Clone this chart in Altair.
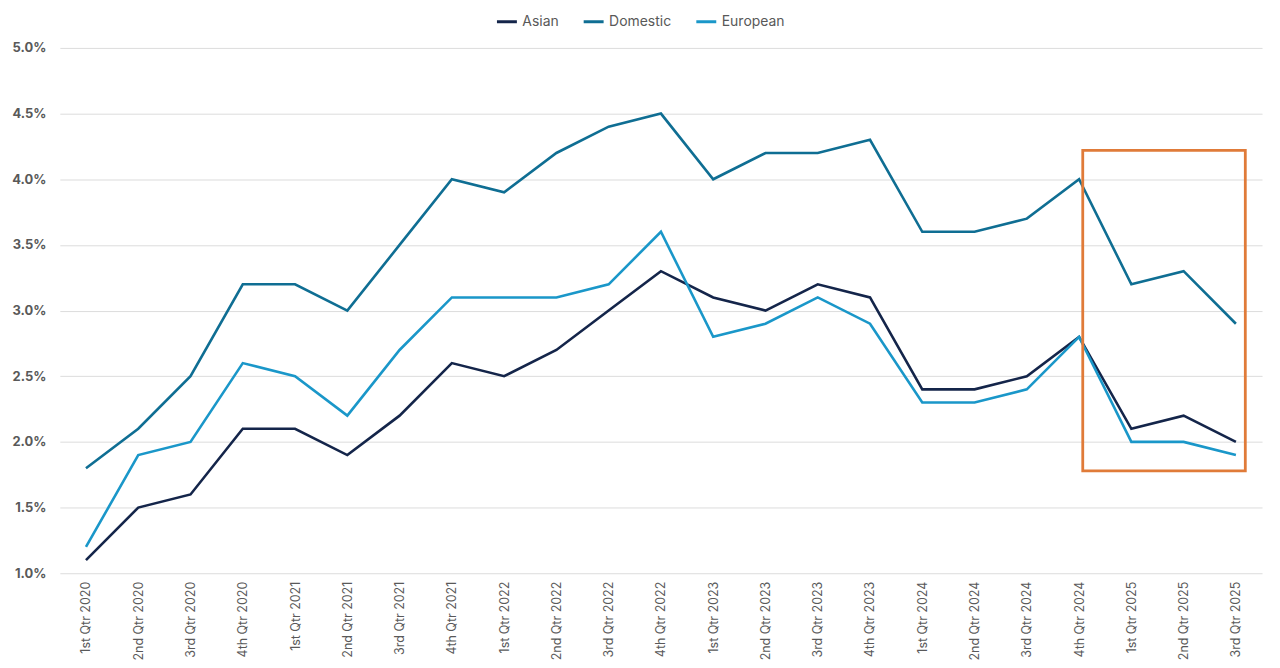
import altair as alt
import pandas as pd

quarters = ["1st Qtr 2020", "2nd Qtr 2020", "3rd Qtr 2020", "4th Qtr 2020",
            "1st Qtr 2021", "2nd Qtr 2021", "3rd Qtr 2021", "4th Qtr 2021",
            "1st Qtr 2022", "2nd Qtr 2022", "3rd Qtr 2022", "4th Qtr 2022",
            "1st Qtr 2023", "2nd Qtr 2023", "3rd Qtr 2023", "4th Qtr 2023",
            "1st Qtr 2024", "2nd Qtr 2024", "3rd Qtr 2024", "4th Qtr 2024",
            "1st Qtr 2025", "2nd Qtr 2025", "3rd Qtr 2025"]
asian = [1.1, 1.5, 1.6, 2.1, 2.1, 1.9, 2.2, 2.6, 2.5, 2.7, 3.0, 3.3,
         3.1, 3.0, 3.2, 3.1, 2.4, 2.4, 2.5, 2.8, 2.1, 2.2, 2.0]
domestic = [1.8, 2.1, 2.5, 3.2, 3.2, 3.0, 3.5, 4.0, 3.9, 4.2, 4.4, 4.5,
            4.0, 4.2, 4.2, 4.3, 3.6, 3.6, 3.7, 4.0, 3.2, 3.3, 2.9]
european = [1.2, 1.9, 2.0, 2.6, 2.5, 2.2, 2.7, 3.1, 3.1, 3.1, 3.2, 3.6,
            2.8, 2.9, 3.1, 2.9, 2.3, 2.3, 2.4, 2.8, 2.0, 2.0, 1.9]
series_names = ["Asian", "Domestic", "European"]
series_colors = ["#14254a", "#0f6e93", "#1a97c9"]

# highlight box (data coordinates)
box_x = [19.07]
box_x2 = [22.18]
box_y = [1.78]
box_y2 = [4.22]

rows = []
for name, vals in zip(series_names, [asian, domestic, european]):
    for i, v in enumerate(vals):
        rows.append({"idx": i, "quarter": quarters[i], "series": name, "value": v})
df = pd.DataFrame(rows)

label_array = "[" + ",".join("'" + q + "'" for q in quarters) + "]"

FONT = "Inter"

x_enc = alt.X("idx:Q",
              scale=alt.Scale(domain=[-0.5, 22.5], nice=False, zero=False),
              axis=alt.Axis(values=list(range(len(quarters))),
                            labelExpr=label_array + "[datum.value]",
                            labelAngle=-90, labelAlign="right", labelBaseline="middle",
                            labelPadding=8, ticks=False, domain=False, grid=False,
                            labelColor="#595959", labelFontSize=12.5, labelFont=FONT,
                            title=None))
y_enc = alt.Y("value:Q",
              scale=alt.Scale(domain=[1.0, 5.0], nice=False, zero=False),
              axis=alt.Axis(values=[1.0, 1.5, 2.0, 2.5, 3.0, 3.5, 4.0, 4.5, 5.0],
                            labelExpr="format(datum.value, '.1f') + '%'",
                            ticks=False, domain=False, gridColor="#dcdcdc",
                            labelColor="#595959", labelFontSize=13, labelFont=FONT,
                            labelFontWeight="bold", labelPadding=14, title=None))

lines = alt.Chart(df).mark_line(strokeWidth=2.6).encode(
    x=x_enc,
    y=y_enc,
    color=alt.Color("series:N",
                    scale=alt.Scale(domain=series_names, range=series_colors),
                    legend=alt.Legend(title=None, orient="none", direction="horizontal",
                                      legendX=437, legendY=-38,
                                      symbolType="stroke", symbolStrokeWidth=3,
                                      symbolSize=400, columnPadding=18,
                                      labelFont=FONT, labelFontSize=14,
                                      labelColor="#595959")),
    order=alt.Order("idx:Q"),
)

box_df = pd.DataFrame({"x": box_x, "x2": box_x2, "y": box_y, "y2": box_y2})
box = alt.Chart(box_df).mark_rect(fill=None, filled=False, stroke="#e07b39",
                                  strokeWidth=2.8).encode(
    x="x:Q", x2="x2:Q", y="y:Q", y2="y2:Q")

chart = alt.layer(lines, box).properties(
    width=1206, height=527,
    background="white",
    autosize=alt.AutoSizeParams(type="none"),
    padding={"left": 52, "top": 39, "right": 10, "bottom": 90},
).configure_view(stroke=None)

chart.save("out.html", embed_options={"renderer": "svg", "actions": False})
